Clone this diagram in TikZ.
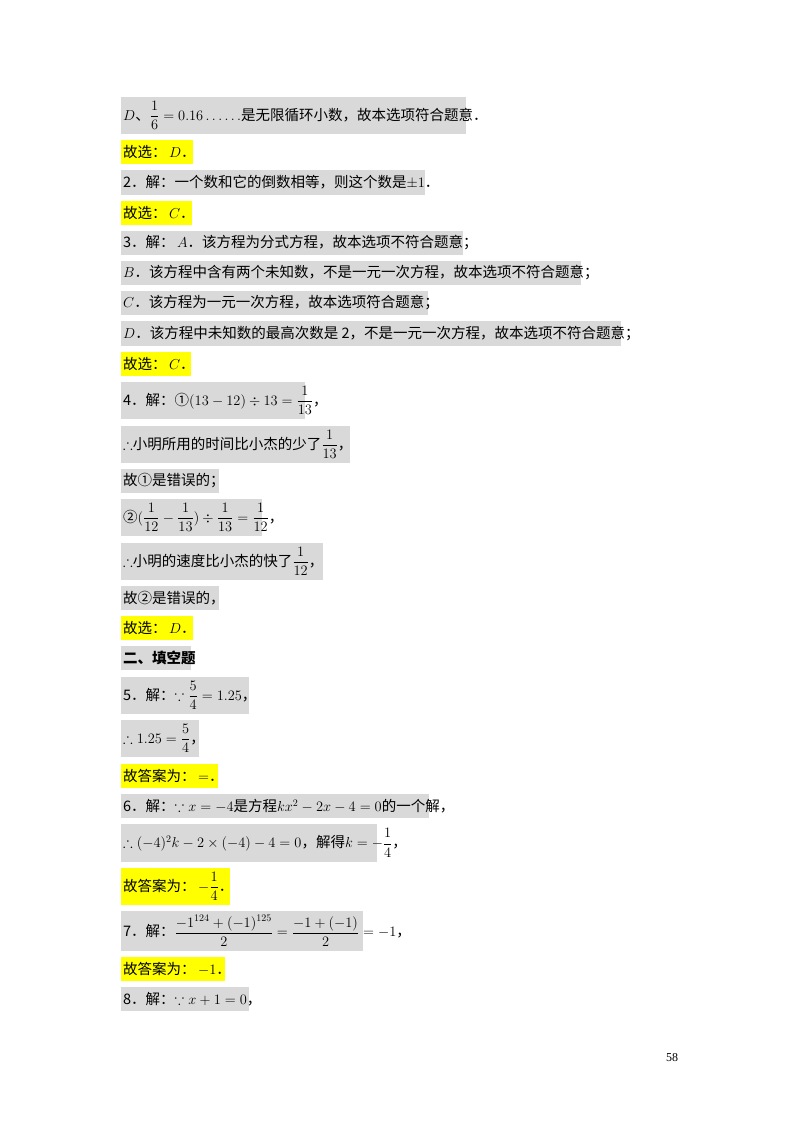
\documentclass[tikz,border=0pt]{standalone}
\usepackage{amsmath,amssymb}
\usepackage{fontspec}
\setmainfont{Liberation Serif}
\newfontfamily\cjk{Noto Sans CJK SC}
\definecolor{grayb}{RGB}{217,217,217}
\definecolor{yel}{RGB}{255,255,0}
\tikzset{txt/.style={anchor=west,inner sep=0pt,font=\cjk\fontsize{14.5}{17}\selectfont}}
\newcommand\bx[6]{\fill[#5] (121,#3) rectangle (#2,#4);
 \node[txt] (#1) at (123,{(#3+#4)/2}) {#6};}
\begin{document}
\begin{tikzpicture}[x=1pt,y=-1pt]
\useasboundingbox (0,0) rectangle (800,1132);
\fill[white] (0,0) rectangle (800,1132);
\bx{a1}{466}{97}{134}{grayb}{$D$、$\dfrac{1}{6}=0.16\ldots\ldots$是无限循环小数，故本选项符合题意．}
\bx{a2}{193}{140}{164}{yel}{故选：\,$D$．}
\bx{a3}{425}{170}{195}{grayb}{2．解：一个数和它的倒数相等，则这个数是$\pm1$．}
\bx{a4}{192}{201}{225}{yel}{故选：\,$C$．}
\bx{a5}{463}{231}{255}{grayb}{3．解：\,$A$．该方程为分式方程，故本选项不符合题意；}
\bx{a6}{581}{261}{285}{grayb}{$B$．该方程中含有两个未知数，不是一元一次方程，故本选项不符合题意；}
\bx{a7}{428}{291}{315}{grayb}{$C$．该方程为一元一次方程，故本选项符合题意；}
\bx{a8}{621}{321}{346}{grayb}{$D$．该方程中未知数的最高次数是 2，不是一元一次方程，故本选项不符合题意；}
\bx{a9}{191}{352}{376}{yel}{故选：\,$C$．}
\bx{b1}{305}{382}{419}{grayb}{4．解：①$(13-12)\div13=\dfrac{1}{13}$，}
\bx{b2}{350}{426}{463}{grayb}{$\therefore$小明所用的时间比小杰的少了$\dfrac{1}{13}$，}
\bx{b3}{219}{469}{493}{grayb}{故①是错误的；}
\bx{b4}{262}{499}{536}{grayb}{②$(\dfrac{1}{12}-\dfrac{1}{13})\div\dfrac{1}{13}=\dfrac{1}{12}$，}
\bx{b5}{323}{543}{580}{grayb}{$\therefore$小明的速度比小杰的快了$\dfrac{1}{12}$，}
\bx{b6}{219}{586}{610}{grayb}{故②是错误的，}
\bx{b7}{193}{616}{640}{yel}{故选：\,$D$．}
\bx{b8}{191}{646}{670}{grayb}{\bfseries 二、填空题}
\bx{c1}{249}{677}{714}{grayb}{5．解：$\because\dfrac{5}{4}=1.25$，}
\bx{c2}{199}{720}{757}{grayb}{$\therefore1.25=\dfrac{5}{4}$，}
\bx{c3}{218}{764}{788}{yel}{故答案为：\,$=$．}
\bx{c4}{429}{794}{818}{grayb}{6．解：$\because x=-4$是方程$kx^2-2x-4=0$的一个解，}
\bx{c5}{377}{824}{862}{grayb}{$\therefore(-4)^2k-2\times(-4)-4=0$，解得$k=-\dfrac{1}{4}$，}
\bx{c6}{230}{868}{905}{yel}{故答案为：\,$-\dfrac{1}{4}$．}
\bx{c7}{363}{911}{951}{grayb}{7．解：$\dfrac{-1^{124}+(-1)^{125}}{2}=\dfrac{-1+(-1)}{2}=-1$，}
\bx{c8}{225}{957}{981}{yel}{故答案为：\,$-1$．}
\bx{c9}{249}{987}{1011}{grayb}{8．解：$\because x+1=0$，}
\node[inner sep=0pt,font=\fontsize{12}{14}\selectfont] (pg) at (672,1058) {58};
\end{tikzpicture}
\end{document}
